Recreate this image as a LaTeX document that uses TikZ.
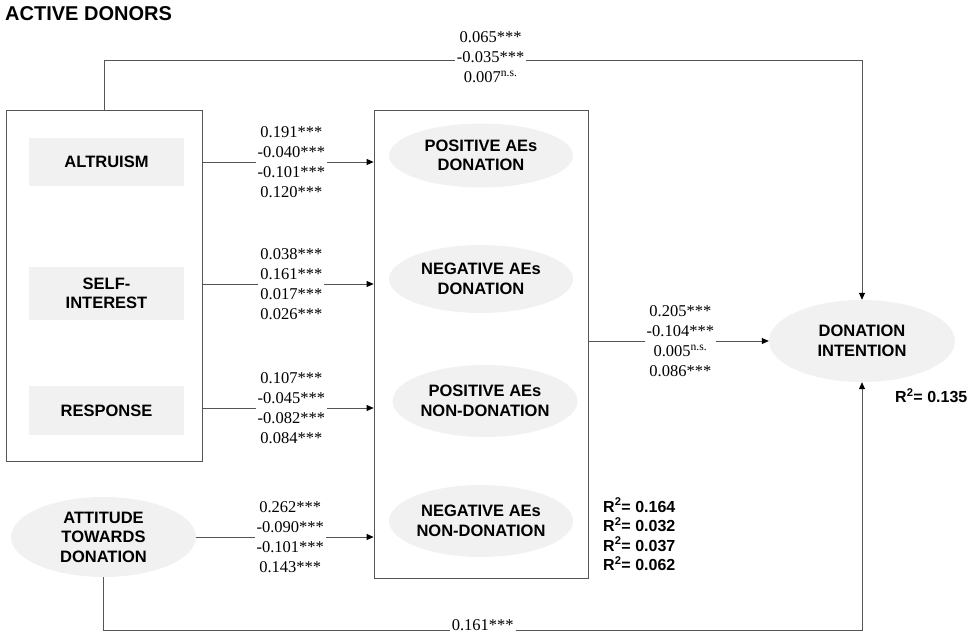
\documentclass[tikz,border=0pt]{standalone}
\usepackage{fontspec}
\setmainfont{Liberation Serif}
\setsansfont{Liberation Sans}
\usetikzlibrary{arrows.meta,shapes.geometric}
\definecolor{boxfill}{HTML}{F1F1F1}
\definecolor{linegray}{HTML}{555555}
\begin{document}
\begin{tikzpicture}[x=1pt,y=-1pt,
  lbl/.style={font=\sffamily\bfseries\fontsize{16.5}{19.5}\selectfont, align=center, text=black},
  rbox/.style={lbl, fill=boxfill, minimum width=155pt, minimum height=48pt, inner sep=0pt},
  ell/.style={lbl, ellipse, fill=boxfill, minimum width=184pt, minimum height=64pt, inner sep=0pt},
  frame/.style={draw=linegray, line width=0.8pt, minimum width=#1, inner sep=0pt},
  num/.style={font=\fontsize{16.5}{20}\selectfont, fill=white, inner sep=2pt, align=center},
  conn/.style={draw=linegray, line width=0.8pt},
  arr/.style={conn, -{Triangle[length=7pt,width=6pt,color=black]}},
  rsq/.style={font=\sffamily\bfseries\fontsize{16}{19.5}\selectfont, align=left}
]
\useasboundingbox (0,0) rectangle (967,634);

% title
\node[anchor=west, font=\sffamily\bfseries\fontsize{20}{22}\selectfont, inner sep=0pt] (title) at (5,14) {ACTIVE DONORS};

% left frame and its constructs
\node[frame=196pt, minimum height=351pt] (L) at (104,285.5) {};
\node[rbox] (alt) at (106.5,162) {ALTRUISM};
\node[rbox, minimum height=53pt] (si) at (106.5,293.5) {SELF-\\INTEREST};
\node[rbox, minimum height=49pt] (resp) at (106.5,410.5) {RESPONSE};
\node[ell, minimum width=185pt, minimum height=80pt] (att) at (103.5,537) {ATTITUDE\\TOWARDS\\DONATION};

% middle frame and emotions
\node[frame=214pt, minimum height=468pt] (M) at (481,344) {};
\node[ell] (pd) at (481,155.5) {POSITIVE AEs\\DONATION};
\node[ell, minimum height=68pt] (nd) at (481,279) {NEGATIVE AEs\\DONATION};
\node[ell, minimum width=185pt, minimum height=72pt] (pn) at (485,401) {POSITIVE AEs\\NON-DONATION};
\node[ell, minimum height=72pt] (nn) at (481,521) {NEGATIVE AEs\\NON-DONATION};

% outcome
\node[ell, minimum width=186pt, minimum height=82pt] (di) at (862,341) {DONATION\\INTENTION};

% R squared
\node[rsq, anchor=west, inner sep=0pt] (r1) at (603,534.5) {R\textsuperscript{2}= 0.164\\R\textsuperscript{2}= 0.032\\R\textsuperscript{2}= 0.037\\R\textsuperscript{2}= 0.062};
\node[rsq, anchor=west, inner sep=0pt] (r2) at (895,396) {R\textsuperscript{2}= 0.135};

% connectors left -> middle
\draw[arr] (L.east |- alt) -- node[num, pos=0.52] {0.191***\\-0.040***\\-0.101***\\0.120***} (M.west |- alt);
\draw[arr] ([yshift=9.5pt]L.east |- si) -- node[num, pos=0.52] {0.038***\\0.161***\\0.017***\\0.026***} ([yshift=9.5pt]M.west |- si);
\draw[arr] ([yshift=2.5pt]L.east |- resp) -- node[num, pos=0.52] {0.107***\\-0.045***\\-0.082***\\0.084***} ([yshift=2.5pt]M.west |- resp);
\draw[arr] (att.east) -- node[num, pos=0.53] {0.262***\\-0.090***\\-0.101***\\0.143***} (M.west |- att);

% middle -> outcome
\draw[arr] (M.east |- di) -- node[num, pos=0.51] {0.205***\\-0.104***\\0.005\textsuperscript{n.s.}\\0.086***} (di.west);

% top path
\coordinate (top) at (0,60);
\draw[arr] (L.north) -- (L.north |- top) -| node[num, pos=0.255, yshift=3pt] {0.065***\\-0.035***\\0.007\textsuperscript{n.s.}} (di.north);

% bottom path
\coordinate (bot) at (0,630);
\draw[arr] (att.south) -- (att.south |- bot) -| node[num, pos=0.25, inner ysep=0pt, yshift=5pt] {0.161***} (di.south);
\end{tikzpicture}
\end{document}
